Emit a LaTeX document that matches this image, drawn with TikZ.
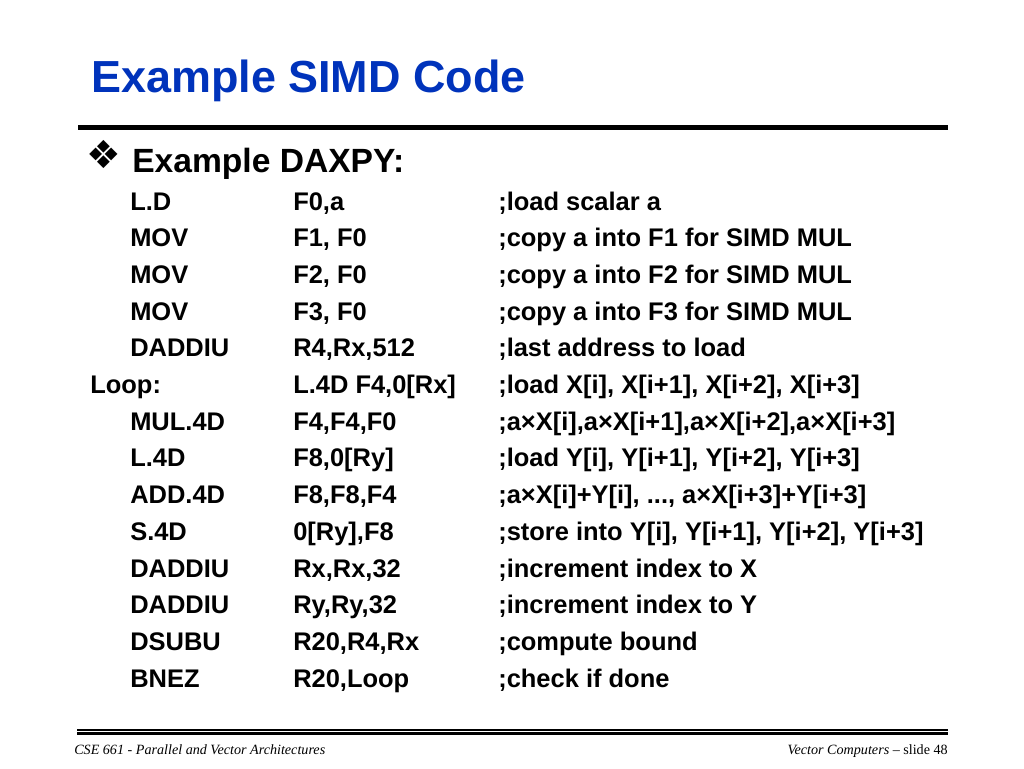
\documentclass[tikz,border=0pt]{standalone}
\usepackage{fontspec}
\setmainfont{Liberation Sans}
\newfontfamily\footfont{Liberation Serif}
\newfontfamily\symfont{DejaVu Sans}
\definecolor{titleblue}{RGB}{0,51,187}
\tikzset{
  txt/.style={anchor=base west, inner sep=0pt},
  slidetitle/.style={txt, text=titleblue, font=\fontsize{33.7}{40}\selectfont\bfseries},
  heading/.style={txt, font=\fontsize{25.2}{30}\selectfont\bfseries},
  code/.style={txt, font=\fontsize{19.1}{23}\selectfont\bfseries},
  foot/.style={inner sep=0pt, font=\footfont\fontsize{10.6}{12}\selectfont\itshape}
}
\begin{document}
\begin{tikzpicture}[x=0.75pt,y=-0.75pt]
  \useasboundingbox (0,0) rectangle (1024,768);
  \node[slidetitle] (title) at (91,92) {Example SIMD Code};
  \draw[line width=3.75pt] (78,127.5) -- (948,127.5);
  \node[inner sep=0pt, font=\symfont\fontsize{29}{32}\selectfont] (bullet) at (103.5,154.5) {❖};
  \node[heading] (daxpy) at (132,172) {Example DAXPY:};
  % code listing
  \begin{scope}[every node/.style={code}]
    \draw
      (130,210) node (op0){L.D}
      (293,210) node (arg0){F0,a}
      (498,210) node (cmt0){;load scalar a}
      (130,246.7) node (op1){MOV}
      (293,246.7) node (arg1){F1, F0}
      (498,246.7) node (cmt1){;copy a into F1 for SIMD MUL}
      (130,283.4) node (op2){MOV}
      (293,283.4) node (arg2){F2, F0}
      (498,283.4) node (cmt2){;copy a into F2 for SIMD MUL}
      (130,320.1) node (op3){MOV}
      (293,320.1) node (arg3){F3, F0}
      (498,320.1) node (cmt3){;copy a into F3 for SIMD MUL}
      (130,356.8) node (op4){DADDIU}
      (293,356.8) node (arg4){R4,Rx,512}
      (498,356.8) node (cmt4){;last address to load}
      (90,393.5) node (op5){Loop:}
      (293,393.5) node (arg5){L.4D F4,0[Rx]}
      (498,393.5) node (cmt5){;load X[i], X[i+1], X[i+2], X[i+3]}
      (130,430.2) node (op6){MUL.4D}
      (293,430.2) node (arg6){F4,F4,F0}
      (498,430.2) node (cmt6){;a×X[i],a×X[i+1],a×X[i+2],a×X[i+3]}
      (130,466.9) node (op7){L.4D}
      (293,466.9) node (arg7){F8,0[Ry]}
      (498,466.9) node (cmt7){;load Y[i], Y[i+1], Y[i+2], Y[i+3]}
      (130,503.6) node (op8){ADD.4D}
      (293,503.6) node (arg8){F8,F8,F4}
      (498,503.6) node (cmt8){;a×X[i]+Y[i], ..., a×X[i+3]+Y[i+3]}
      (130,540.3) node (op9){S.4D}
      (293,540.3) node (arg9){0[Ry],F8}
      (498,540.3) node (cmt9){;store into Y[i], Y[i+1], Y[i+2], Y[i+3]}
      (130,577) node (op10){DADDIU}
      (293,577) node (arg10){Rx,Rx,32}
      (498,577) node (cmt10){;increment index to X}
      (130,613.7) node (op11){DADDIU}
      (293,613.7) node (arg11){Ry,Ry,32}
      (498,613.7) node (cmt11){;increment index to Y}
      (130,650.4) node (op12){DSUBU}
      (293,650.4) node (arg12){R20,R4,Rx}
      (498,650.4) node (cmt12){;compute bound}
      (130,687.1) node (op13){BNEZ}
      (293,687.1) node (arg13){R20,Loop}
      (498,687.1) node (cmt13){;check if done};
  \end{scope}
  % footer
  \draw[line width=1.1pt] (77,730) -- (948,730);
  \draw[line width=1.9pt] (77,733.6) -- (948,733.6);
  \node[foot, anchor=base west] (course) at (74,754) {CSE 661 - Parallel and Vector Architectures};
  \node[foot, anchor=base east] (slideno) at (948,754) {Vector Computers – {\upshape slide 48}};
\end{tikzpicture}
\end{document}
